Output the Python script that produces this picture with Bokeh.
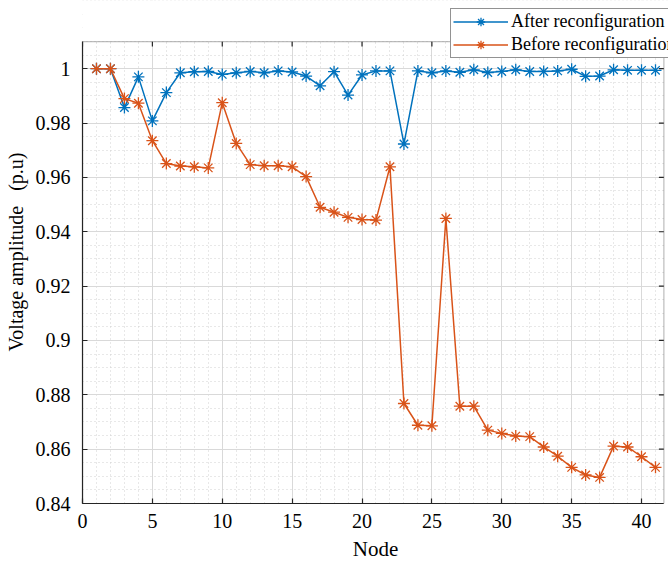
import numpy as np
from bokeh.plotting import figure
from bokeh.models import (FixedTicker, Legend, LegendItem, Range1d, BoxAnnotation)
from bokeh.embed import file_html
from bokeh.resources import INLINE

# ---- data ----
nodes = list(range(1, 42))
after_reconf = [1.0, 1.0, 0.9857, 0.997, 0.9808, 0.9912, 0.9985, 0.9989, 0.999, 0.9979,
                0.9985, 0.999, 0.9985, 0.9992, 0.9988, 0.9973, 0.9937, 0.9989, 0.9903, 0.9977,
                0.9992, 0.9992, 0.9723, 0.9992, 0.9985, 0.9992, 0.9987, 0.9996, 0.9986, 0.999,
                0.9996, 0.999, 0.999, 0.9992, 0.9998, 0.9972, 0.9973, 0.9996, 0.9994, 0.9994,
                0.9994]
before_reconf = [1.0, 1.0, 0.989, 0.9873, 0.9735, 0.9651, 0.9642, 0.9639, 0.9635, 0.9875,
                 0.9725, 0.9647, 0.9643, 0.9643, 0.9639, 0.9603, 0.949, 0.9472, 0.9453, 0.9445,
                 0.9443, 0.9639, 0.8768, 0.8688, 0.8686, 0.9449, 0.8758, 0.8758, 0.867, 0.8658,
                 0.8648, 0.8646, 0.8608, 0.8574, 0.8533, 0.8505, 0.8496, 0.8611, 0.8608, 0.8572,
                 0.8533]
series_names = ["After reconfiguration", "Before reconfiguration"]
x_ticks = [0, 5, 10, 15, 20, 25, 30, 35, 40]
x_tick_labels = ["0", "5", "10", "15", "20", "25", "30", "35", "40"]
y_ticks = [0.84, 0.86, 0.88, 0.9, 0.92, 0.94, 0.96, 0.98, 1.0]
y_tick_labels = ["0.84", "0.86", "0.88", "0.9", "0.92", "0.94", "0.96", "0.98", "1"]

# axes box limits
X0, X1 = 0, 41.6
Y0, Y1 = 0.84, 1.01

FONT = "Liberation Serif"
BLUE = "#0072BD"
ORANGE = "#D95319"
AXC = "#262626"

p = figure(width=668, height=565, output_backend="svg", toolbar_location=None, title=None,
           x_range=Range1d(X0, 41.93), y_range=Range1d(Y0, 1.0251),
           min_border_left=82, min_border_right=0, min_border_top=0, min_border_bottom=62)
p.background_fill_color = "white"
p.border_fill_color = "white"
p.outline_line_color = None

x_minor = [float(v) for v in np.arange(0, 42, 1)]
y_minor = [float(v) for v in np.round(np.arange(0.84, 1.0251, 0.005), 4)]
xt = FixedTicker(ticks=x_ticks, minor_ticks=x_minor)
yt = FixedTicker(ticks=y_ticks, minor_ticks=y_minor)

p.xaxis.ticker = xt
p.yaxis.ticker = yt
p.xaxis.major_label_overrides = {t: l for t, l in zip(x_ticks, x_tick_labels)}
p.yaxis.major_label_overrides = {t: l for t, l in zip(y_ticks, y_tick_labels)}
p.xaxis.bounds = (X0, X1)
p.yaxis.bounds = (Y0, Y1)

for ax in (p.xaxis[0], p.yaxis[0]):
    ax.axis_line_color = AXC
    ax.axis_line_width = 1.2
    ax.major_tick_line_color = AXC
    ax.major_tick_line_width = 1.2
    ax.major_tick_in = 5
    ax.major_tick_out = 0
    ax.minor_tick_line_color = None
    ax.major_label_text_font = FONT
    ax.major_label_text_font_size = "20px"
    ax.major_label_text_color = "black"
    ax.axis_label_text_font = FONT
    ax.axis_label_text_font_style = "normal"
    ax.axis_label_text_color = "black"

p.xaxis.axis_label = "Node"
p.yaxis.axis_label = "Voltage amplitude\u00a0\u00a0\u00a0(p.u)"
p.xaxis.axis_label_text_font_size = "21px"
p.yaxis.axis_label_text_font_size = "20px"
p.xaxis.major_label_standoff = 6
p.yaxis.major_label_standoff = 8
p.xaxis.axis_label_standoff = 6
p.yaxis.axis_label_standoff = 6

for g in (p.xgrid[0], p.ygrid[0]):
    g.grid_line_color = "#d9d9d9"
    g.grid_line_width = 1
    g.minor_grid_line_color = "#d0d0d0"
    g.minor_grid_line_dash = "1 3"
    g.minor_grid_line_width = 1

l1 = p.line(nodes, after_reconf, line_color=BLUE, line_width=1.5)
m1 = p.scatter(nodes, after_reconf, marker="asterisk", size=12, line_color=BLUE, line_width=1.3)
l2 = p.line(nodes, before_reconf, line_color=ORANGE, line_width=1.5)
m2 = p.scatter(nodes, before_reconf, marker="asterisk", size=12, line_color=ORANGE, line_width=1.3)

# inward ticks on the top and right sides of the axes box
p.ray(x=x_ticks, y=[Y1] * len(x_ticks), length=5, length_units="screen",
      angle=-np.pi / 2, line_color=AXC, line_width=1.2)
p.ray(x=[X1] * len(y_ticks), y=y_ticks, length=5, length_units="screen",
      angle=np.pi, line_color=AXC, line_width=1.2)

# white cover outside the axes box, then the box outline
p.add_layout(BoxAnnotation(bottom=Y1, fill_color="white", fill_alpha=1, line_color=None))
p.add_layout(BoxAnnotation(left=X1, fill_color="white", fill_alpha=1, line_color=None))
p.add_layout(BoxAnnotation(left=X0, right=X1, bottom=Y0, top=Y1, fill_alpha=0,
                           line_color=AXC, line_width=1.2))

legend = Legend(items=[LegendItem(label=series_names[0], renderers=[l1, m1]),
                       LegendItem(label=series_names[1], renderers=[l2, m2])],
                location=(368, 445))
legend.label_text_font = FONT
legend.label_text_font_size = "18px"
legend.label_text_color = "black"
legend.glyph_width = 55
legend.glyph_height = 21
legend.label_height = 21
legend.spacing = 2
legend.padding = 2
legend.margin = 0
legend.label_standoff = 3
legend.border_line_color = AXC
legend.border_line_width = 1.2
legend.background_fill_color = "white"
legend.background_fill_alpha = 1
p.add_layout(legend, "center")

open("out.html", "w").write(file_html(p, INLINE))
